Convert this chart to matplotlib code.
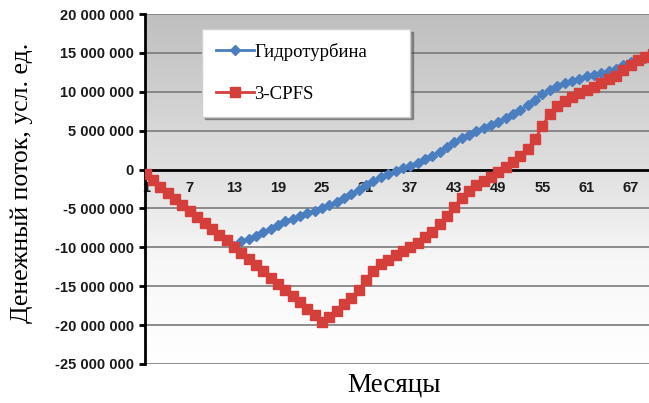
import numpy as np
import matplotlib
matplotlib.use('Agg')
import matplotlib.pyplot as plt

months = np.arange(1, 71)

# cash flow, millions of conventional units
cpfs = [-0.6, -1.4, -2.2, -3.0, -3.8, -4.6, -5.3, -6.1, -6.9, -7.6,
        -8.4, -9.1, -9.9, -10.7, -11.5, -12.3, -13.1, -13.9, -14.7, -15.5,
        -16.3, -17.1, -17.9, -18.7, -19.6, -19.0, -18.2, -17.3, -16.5, -15.5,
        -14.2, -13.0, -12.2, -11.6, -11.0, -10.5, -10.0, -9.4, -8.7, -8.0,
        -7.0, -6.0, -4.8, -3.6, -2.7, -2.0, -1.5, -0.9, -0.3, 0.3,
        1.0, 1.8, 2.7, 3.9, 5.6, 7.2, 8.2, 8.8, 9.3, 9.8,
        10.2, 10.6, 11.1, 11.6, 12.1, 12.8, 13.5, 14.1, 14.5, 14.9]

hydro = [-0.6, -1.4, -2.2, -3.0, -3.8, -4.6, -5.3, -6.1, -6.9, -7.6,
         -8.4, -9.1, -9.8, -9.2, -8.9, -8.5, -8.0, -7.6, -7.1, -6.6,
         -6.3, -6.0, -5.6, -5.3, -5.0, -4.6, -4.2, -3.7, -3.2, -2.6,
         -2.0, -1.5, -1.0, -0.6, -0.2, 0.2, 0.5, 0.9, 1.3, 1.8,
         2.3, 2.9, 3.5, 4.0, 4.5, 4.9, 5.3, 5.7, 6.1, 6.6,
         7.1, 7.6, 8.3, 9.0, 9.7, 10.3, 10.8, 11.1, 11.4, 11.7,
         12.0, 12.2, 12.4, 12.7, 13.0, 13.4, 13.8, 14.1, 14.4, 14.7]

cpfs = np.array(cpfs) * 1e6
hydro = np.array(hydro) * 1e6

xticks = list(range(1, 70, 6))
yticks = list(range(-25000000, 20000001, 5000000))

fig = plt.figure(figsize=(6.49, 4.03), dpi=100)
ax = fig.add_axes([145 / 649, 0.097, 1 - 145 / 649, 0.868])

# gradient plot-area background
grad = np.linspace(0, 1, 256).reshape(-1, 1)
cmap = matplotlib.colors.LinearSegmentedColormap.from_list(
    'bg', [(0, '#ffffff'), (0.3, '#f7f7f7'), (0.55, '#e0e0e0'), (1, '#bfbfbf')])
ax.imshow(grad, cmap=cmap, origin='lower', aspect='auto',
          extent=[0, 1, 0, 1], transform=ax.transAxes, zorder=0)

for v in yticks:
    if v != 0:
        ax.axhline(v, color='#7a7a7a', lw=1.2, zorder=1)

ax.plot(months, hydro, color='#4a7ebf', lw=2, marker='D', ms=5,
        label='Гидротурбина', zorder=3)
ax.plot(months, cpfs, color='#d43f3c', lw=2, marker='s', ms=7.5,
        label='3-CPFS', zorder=4)

ax.set_xlim(0.9, 69.5)
ax.set_ylim(-25000000, 20000000)

ax.spines['top'].set_visible(False)
ax.spines['right'].set_visible(False)
ax.spines['left'].set_linewidth(2)
ax.spines['bottom'].set_position(('data', 0))
ax.spines['bottom'].set_linewidth(2)
ax.spines['bottom'].set_zorder(2)

ax.set_xticks(xticks)
ax.set_xticklabels([str(t) for t in xticks])
ax.set_yticks(yticks)
ax.set_yticklabels([format(t, ',').replace(',', ' ') for t in yticks])
ax.tick_params(axis='x', length=0, pad=8)
ax.tick_params(axis='y', length=4, width=2, direction='out', pad=4)
for lab in ax.get_xticklabels() + ax.get_yticklabels():
    lab.set_family('Liberation Sans')
    lab.set_fontweight('bold')
    lab.set_fontsize(10.5)
    lab.set_color('#1a1a1a')

fig.text(0.034, 0.545, 'Денежный поток, усл. ед.', rotation=90,
         ha='center', va='center', family='Liberation Serif', fontsize=18.5)
fig.text(0.607, 0.045, 'Месяцы', ha='center', va='center',
         family='Liberation Serif', fontsize=19.5)

leg = ax.legend(loc='upper left',
                bbox_to_anchor=(202 / 649, 1 - 112 / 403, 208 / 649, 83 / 403),
                bbox_transform=fig.transFigure, mode='expand',
                prop={'family': 'Liberation Serif', 'size': 13.5},
                fancybox=False, shadow=True, frameon=True, edgecolor='#d0d0d0',
                labelspacing=1.3, handlelength=2.0, handletextpad=0.05,
                borderpad=0.75, borderaxespad=0)
leg.get_frame().set_linewidth(1)
leg.set_zorder(6)

plt.savefig('out.png', dpi=100)
